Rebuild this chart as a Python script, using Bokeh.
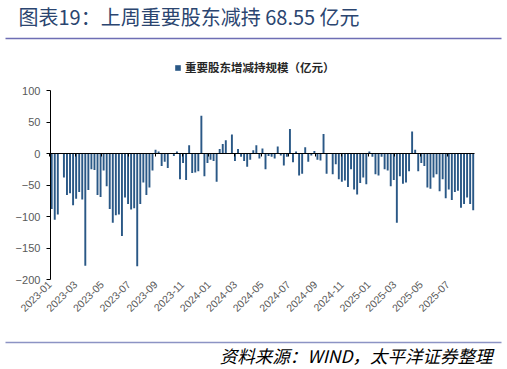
import numpy as np
import pandas as pd
from bokeh.plotting import figure
from bokeh.models import (Range1d, FixedTicker, DatetimeTickFormatter, Label, BoxAnnotation,
                          Legend, LegendItem, ColumnDataSource, DatetimeAxis,
                          CustomJSTickFormatter)
from bokeh.embed import file_html
from bokeh.resources import INLINE

# ---------------- data ----------------
title_text = "图表19：上周重要股东减持 68.55 亿元"
legend_text = "重要股东增减持规模（亿元）"
source_text = "资料来源：WIND，太平洋证券整理"
first_week = "2023-01-06"          # weekly (Friday) observations
first_tick = "2023-01-01"          # date-axis labels every two months
nan = float("nan")                 # holiday weeks without trading
values = [
    -88, -105, -97, nan, -38, -66, -63, -82, -72, -61,
    -73, -178, -58, -25, -26, -66, -69, -27, -52, -88,
    -110, -98, -97, -131, -70, -80, -89, -87, -179, -80,
    -46, -66, -54, -27, 6, 3, -20, -13, -23, nan,
    -4, 3, -41, -15, -42, 13, -31, -30, -28, 60,
    -36, -15, -10, -12, -45, 7, 15, 21, nan, 30,
    -12, 7, -5, -12, -21, -10, 5, 13, -8, 8,
    -25, -4, -5, -8, 11, -3, -19, -5, 39, -14,
    3, -35, -32, 10, -13, -3, 4, -10, -11, 31,
    -32, nan, -33, -17, -41, -45, -43, -53, -25, -57,
    -65, -47, -38, -49, 3, -5, -33, -35, -5, -25,
    -27, -52, -42, -110, -36, -48, -46, -28, 35, 6,
    -28, -15, -20, -54, -56, -38, -33, -60, -41, -71,
    -57, -74, -61, -59, -86, -80, -70, -80, -90,
]
y_ticks = [-200, -150, -100, -50, 0, 50, 100]
y_min, y_max = -200, 100

dates = pd.date_range(first_week, periods=len(values), freq="7D")
tick_dates = pd.date_range(first_tick, dates[-1], freq="2MS")

def to_ms(idx):
    return [t.value / 1e6 for t in idx]

DAY = 86400000.0
x_ms = to_ms(dates)
tick_ms = to_ms(tick_dates)

# ---------------- geometry (pixels) ----------------
W, H = 507, 369
PX_PER_DAY = 0.43634
FIRST_BAR_X = 51.2
AX_LEFT, AX_RIGHT = 49.9, 473.5     # horizontal extent of the plotting area
Y_TOP, Y_BOTTOM = 90.0, 279.0       # pixel rows of y_max / y_min
ppu = (Y_BOTTOM - Y_TOP) / (y_max - y_min)

def xd(px):   # pixel column -> datetime ms
    return x_ms[0] + (px - FIRST_BAR_X) / PX_PER_DAY * DAY

BAR = "#2A5886"
CJK = "Noto Sans CJK SC"

p = figure(width=W, height=H, x_axis_type="datetime",
           x_range=Range1d(xd(0), xd(W)),
           y_range=Range1d(y_min - (H - Y_BOTTOM) / ppu, y_max + Y_TOP / ppu),
           output_backend="svg", toolbar_location=None,
           min_border_left=0, min_border_right=0, min_border_top=0, min_border_bottom=0)
p.grid.visible = False
p.outline_line_color = None
p.title.visible = False

src = ColumnDataSource(data=dict(x=x_ms, v=np.array(values, dtype=float)))
r = p.vbar(x="x", top="v", width=4.4 * DAY, source=src, fill_color=BAR, line_color=None)

# y axis at the left edge of the plotting area
ya = p.yaxis[0]
ya.fixed_location = xd(AX_LEFT)
ya.bounds = (y_min, y_max)
ya.ticker = FixedTicker(ticks=y_ticks)
ya.axis_line_color = "black"
ya.major_tick_line_color = "black"
ya.major_tick_out = 4
ya.major_tick_in = 0
ya.minor_tick_line_color = None
ya.major_label_text_font = "Liberation Sans"
ya.major_label_text_font_size = "11px"
ya.major_label_text_color = "#595959"
ya.major_label_standoff = 6

# x axis labels along the bottom of the plotting area
fmt = "%Y-%m"
xa = p.xaxis[0]
xa.fixed_location = y_min
xa.bounds = (xd(AX_LEFT - 3), xd(AX_RIGHT))
xa.ticker = FixedTicker(ticks=tick_ms)
xa.formatter = DatetimeTickFormatter(milliseconds=fmt, seconds=fmt, minsec=fmt, minutes=fmt,
                                     hourmin=fmt, hours=fmt, days=fmt, months=fmt, years=fmt)
xa.axis_line_color = None
xa.major_tick_line_color = None
xa.major_tick_out = 0
xa.major_tick_in = 0
xa.minor_tick_line_color = None
xa.major_label_orientation = np.pi / 4
xa.major_label_text_font = "Liberation Sans"
xa.major_label_text_font_size = "10.5px"
xa.major_label_text_color = "#595959"
xa.major_label_standoff = 3

# category line crossing at zero, with its tick marks
zero_axis = DatetimeAxis(fixed_location=0, bounds=(xd(AX_LEFT), xd(AX_RIGHT)),
                         ticker=FixedTicker(ticks=tick_ms),
                         formatter=CustomJSTickFormatter(code="return ''"),
                         axis_line_color="black", axis_line_width=1,
                         major_tick_line_color="black", major_tick_out=3, major_tick_in=0,
                         minor_tick_line_color=None, major_label_standoff=0)
p.add_layout(zero_axis, "below")

# legend
legend = Legend(items=[LegendItem(label=legend_text, renderers=[r])],
                location=(174, H - 75), orientation="horizontal",
                label_text_font=CJK, label_text_font_size="11.5px",
                label_text_font_style="bold", label_text_color="#262626",
                glyph_width=7, glyph_height=7, label_standoff=4,
                border_line_color=None, background_fill_alpha=0,
                padding=2, margin=0, label_height=14)
p.add_layout(legend)

# title, rules, source
def sy(py):
    return H - py

p.add_layout(Label(x=18, y=sy(15.5), x_units="screen", y_units="screen",
                   text=title_text, text_font=CJK, text_font_size="20px",
                   text_color="#2B4570", text_baseline="middle", text_align="left"))
p.add_layout(BoxAnnotation(left=5, right=501, bottom=sy(38.75), top=sy(37.25),
                           left_units="screen", right_units="screen",
                           bottom_units="screen", top_units="screen",
                           fill_color="#6E6EB4", fill_alpha=1, line_color=None))
p.add_layout(BoxAnnotation(left=5, right=501, bottom=sy(342.75), top=sy(341.25),
                           left_units="screen", right_units="screen",
                           bottom_units="screen", top_units="screen",
                           fill_color="#8C93C4", fill_alpha=1, line_color=None))
p.add_layout(Label(x=492, y=sy(355), x_units="screen", y_units="screen",
                   text=source_text, text_font=CJK, text_font_size="17.5px",
                   text_font_style="italic", text_color="black",
                   text_baseline="middle", text_align="right"))

open("out.html", "w").write(file_html(p, INLINE))
